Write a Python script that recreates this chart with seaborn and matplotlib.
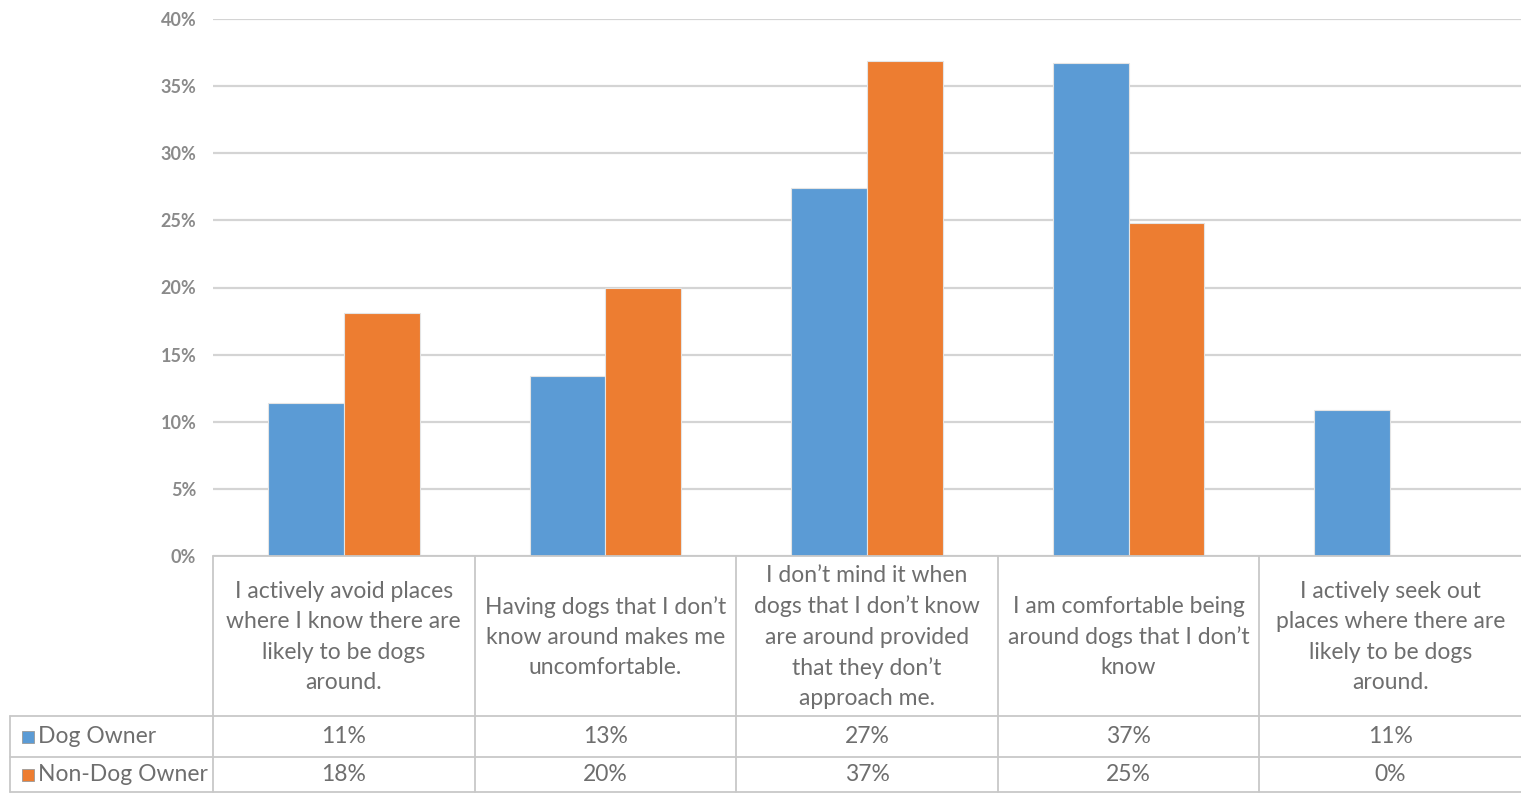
import numpy as np
import pandas as pd
import seaborn as sns
import matplotlib.pyplot as plt
from matplotlib.ticker import PercentFormatter
from matplotlib.transforms import blended_transform_factory

# ---- data -------------------------------------------------------------
categories = [
    "I actively avoid places\nwhere I know there are\nlikely to be dogs\naround.",
    "Having dogs that I don\u2019t\nknow around makes me\nuncomfortable.",
    "I don\u2019t mind it when\ndogs that I don\u2019t know\nare around provided\nthat they don\u2019t\napproach me.",
    "I am comfortable being\naround dogs that I don\u2019t\nknow",
    "I actively seek out\nplaces where there are\nlikely to be dogs\naround.",
]
groups = ["Dog Owner", "Non-Dog Owner"]
dog_owner = [11.4, 13.4, 27.4, 36.7, 10.9]
non_dog_owner = [18.1, 20.0, 36.9, 24.8, 0.0]
y_ticks = [0, 5, 10, 15, 20, 25, 30, 35, 40]

colors = {"Dog Owner": "#5B9BD5", "Non-Dog Owner": "#ED7D31"}
text_color = "#6e6e6e"
line_color = "#c8c8c8"

df = pd.DataFrame({
    "category": categories * 2,
    "group": [groups[0]] * len(categories) + [groups[1]] * len(categories),
    "value": dog_owner + non_dog_owner,
})

# ---- figure -------------------------------------------------------------
sns.set_style("white")
plt.rcParams["font.family"] = ["Lato", "DejaVu Sans"]

W, H = 1521, 793
fig = plt.figure(figsize=(W / 100, H / 100), dpi=100)
ax_left, ax_right, ax_top, ax_bottom = 213, 1521, 19, 556
ax = fig.add_axes([ax_left / W, (H - ax_bottom) / H,
                   (ax_right - ax_left) / W, (ax_bottom - ax_top) / H])

sns.barplot(data=df, x="category", y="value", hue="group",
            order=categories, hue_order=groups, palette=colors,
            saturation=1, width=0.58, edgecolor="#e4e4e4", linewidth=0.8,
            legend=False, ax=ax)

ax.set_xlim(-0.5, len(categories) - 0.5)
ax.set_ylim(0, 40)
ax.set_yticks(y_ticks)
ax.yaxis.set_major_formatter(PercentFormatter(xmax=100, decimals=0))
ax.yaxis.grid(True, color="#d4d4d4", linewidth=1.6)
ax.set_axisbelow(True)
ax.set_xticks([])
ax.set_xlabel("")
ax.set_ylabel("")
for s in ax.spines.values():
    s.set_visible(False)
ax.tick_params(axis="y", length=0, pad=12, labelsize=13,
               labelcolor="#8a8a8a")
for lbl in ax.get_yticklabels():
    lbl.set_fontweight("bold")

# ---- data table below the plot -----------------------------------------
ax_h = ax_bottom - ax_top
px_per_cat = (ax_right - ax_left) / len(categories)
tr = blended_transform_factory(ax.transData, ax.transAxes)


def fy(py):
    """Pixel row below the axes -> axes fraction."""
    return -(py - ax_bottom) / ax_h


def fx(px):
    """Pixel column -> category data coordinate."""
    return -0.5 + (px - ax_left) / px_per_cat


header_bottom, row1_bottom, row2_bottom = 716, 757, 792
x_left = fx(10)
x_right = len(categories) - 0.5
lkw = dict(color=line_color, linewidth=1.3, transform=tr, clip_on=False)

ax.plot([-0.5, x_right], [fy(ax_bottom)] * 2, **lkw)
for yb in (header_bottom, row1_bottom, row2_bottom):
    ax.plot([x_left, x_right], [fy(yb)] * 2, **lkw)
for i in range(len(categories)):
    ax.plot([i - 0.5] * 2, [fy(ax_bottom), fy(row2_bottom)], **lkw)
ax.plot([x_left] * 2, [fy(header_bottom), fy(row2_bottom)], **lkw)

fs = 16.5
for i, cat in enumerate(categories):
    ax.text(i, fy((ax_bottom + header_bottom) / 2 + 1), cat, transform=tr,
            ha="center", va="center", fontsize=fs, color=text_color,
            linespacing=1.53, clip_on=False)

row_mid = [(header_bottom + row1_bottom) / 2, (row1_bottom + row2_bottom) / 2]
for g, vals, ym in zip(groups, [dog_owner, non_dog_owner], row_mid):
    for i, v in enumerate(vals):
        ax.text(i, fy(ym), f"{v:.0f}%", transform=tr, ha="center",
                va="center", fontsize=fs, color=text_color, clip_on=False)
    ax.plot([fx(28)], [fy(ym)], marker="s", markersize=9,
            color=colors[g], markeredgecolor="#9a9a9a", markeredgewidth=0.6,
            transform=tr, clip_on=False)
    ax.text(fx(38), fy(ym), g, transform=tr, ha="left", va="center",
            fontsize=fs, color=text_color, clip_on=False)

fig.savefig("out.png", dpi=100)
